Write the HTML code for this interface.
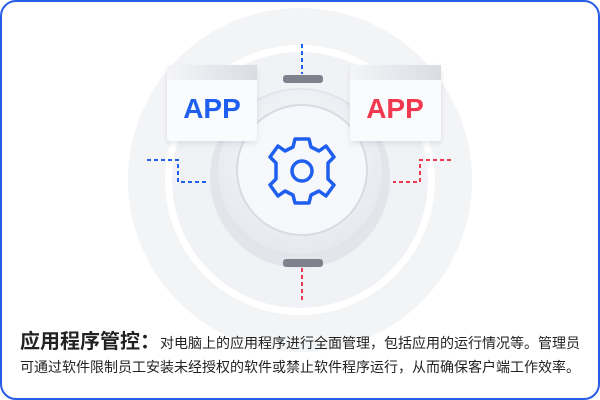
<!DOCTYPE html>
<html><head><meta charset="utf-8"><style>
html,body{margin:0;padding:0;background:#fff}
.wrap{position:relative;width:600px;height:400px;overflow:hidden;font-family:"Liberation Sans","Noto Sans CJK SC",sans-serif}
.frame{position:absolute;left:0;top:0;width:596px;height:396px;border:2px solid #2a5be8;border-radius:16px}
.txt{position:absolute;left:20px;top:330px;width:570px;font-size:14px;color:#222;line-height:24px}
.txt b{font-size:20px;color:#222}
</style></head><body><div class="wrap">
<svg width="600" height="400" style="position:absolute;left:0;top:0">
<defs>
<radialGradient id="kn" cx="50%" cy="40%" r="60%"><stop offset="0" stop-color="#fafbfd"/><stop offset="1" stop-color="#e6e8ee"/></radialGradient>
<linearGradient id="hd" x1="0" x2="1"><stop offset="0" stop-color="#f4f5f8"/><stop offset="1" stop-color="#d9dce3"/></linearGradient>
<filter id="sh" x="-20%" y="-20%" width="140%" height="150%"><feDropShadow dx="0" dy="3" stdDeviation="3" flood-color="#9aa0ad" flood-opacity="0.25"/></filter>
</defs>
<circle cx="300" cy="180" r="172" fill="#f3f4f6"/>
<circle cx="300" cy="180" r="135" fill="#fff"/>
<circle cx="300" cy="180" r="128" fill="#f1f2f5"/>
<circle cx="300" cy="178" r="90" fill="#e3e5ea"/>
<circle cx="300" cy="172" r="83" fill="url(#kn)" stroke="#dfe2e8"/>
<circle cx="302" cy="170" r="65" fill="#f7f8fb" stroke="#d8dbe2" stroke-width="2"/>
<rect x="283" y="75" width="40" height="8" rx="3" fill="#7d828d"/>
<rect x="283" y="259" width="40" height="8" rx="3" fill="#7d828d"/>
<g stroke-dasharray="4,3" stroke-width="2" fill="none">
<path d="M302 44V74" stroke="#1f5ff0"/>
<path d="M302 268V300" stroke="#f0384f"/>
<path d="M147 160H178V182H206" stroke="#1f5ff0"/>
<path d="M451 160H420V182H393" stroke="#f0384f"/>
</g>
<g fill="#fafbfc" filter="url(#sh)">
<rect x="167" y="65" width="90" height="76" rx="3"/>
<rect x="350" y="65" width="91" height="76" rx="3"/>
</g>
<rect x="167" y="65" width="90" height="15" fill="url(#hd)"/>
<rect x="350" y="65" width="91" height="15" fill="url(#hd)"/>
<text x="212" y="118" font-size="28" font-weight="bold" fill="#1f5ff0" text-anchor="middle" font-family="Liberation Sans">APP</text>
<text x="395" y="118" font-size="28" font-weight="bold" fill="#f0384f" text-anchor="middle" font-family="Liberation Sans">APP</text>
<g transform="translate(302,171)" fill="none" stroke="#1f5ff0" stroke-width="3.5" stroke-linejoin="round">
<path d="M-7-32L7-32L9-24L17-20L24-25L32-14L26-8L26 8L32 14L24 25L17 20L9 24L7 32L-7 32L-9 24L-17 20L-24 25L-32 14L-26 8L-26-8L-32-14L-24-25L-17-20L-9-24Z"/>
<circle r="10"/>
</g>
</svg>
<div class="frame"></div>
<div class="txt"><b>应用程序管控：</b>对电脑上的应用程序进行全面管理，包括应用的运行情况等。管理员可通过软件限制员工安装未经授权的软件或禁止软件程序运行，从而确保客户端工作效率。</div>
</div></body></html>
